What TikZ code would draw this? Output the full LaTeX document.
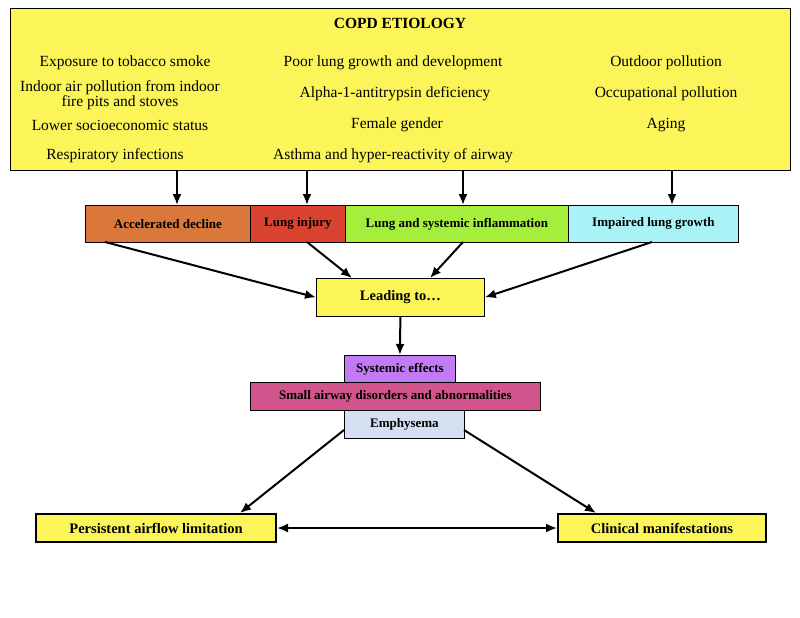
\documentclass[tikz,border=0pt]{standalone}
\usepackage{fontspec}
\setmainfont{Liberation Serif}
\usetikzlibrary{arrows.meta}
\definecolor{ylw}{HTML}{FBF55A}
\definecolor{org}{HTML}{D9783A}
\definecolor{rd}{HTML}{D9432F}
\definecolor{grn}{HTML}{A6EE3C}
\definecolor{cyn}{HTML}{A9F3F6}
\definecolor{vio}{HTML}{C27BF4}
\definecolor{mag}{HTML}{D2548C}
\definecolor{lbl}{HTML}{D5DFF2}
\begin{document}
\begin{tikzpicture}[x=1pt,y=-1pt,
  box/.style={draw=black,line width=0.8pt,font=\bfseries\fontsize{13}{15}\selectfont,inner sep=0pt},
  bigbox/.style={draw=black,line width=2pt,fill=ylw,font=\bfseries\fontsize{14.5}{16}\selectfont,inner sep=0pt},
  tx/.style={font=\fontsize{15.5}{16}\selectfont,align=center},
  arr/.style={-{Latex[length=11pt,width=9pt]},line width=2pt}]
\useasboundingbox (0,0) rectangle (800,618);
\node[draw=black,line width=0.8pt,fill=ylw,minimum width=780,minimum height=162,anchor=north west] (top) at (10,8) {};
\node[font=\bfseries\fontsize{15.5}{17}\selectfont] (title) at (400,23) {COPD ETIOLOGY};
\node[tx] (a1) at (125,63) {Exposure to tobacco smoke};
\node[tx] (a2) at (120,95) {Indoor air pollution from indoor\\[-1pt]fire pits and stoves};
\node[tx] (a3) at (120,125) {Lower socioeconomic status};
\node[tx] (a4) at (115,156) {Respiratory infections};
\node[tx] (b1) at (393,63) {Poor lung growth and development};
\node[tx] (b2) at (395,94) {Alpha-1-antitrypsin deficiency};
\node[tx] (b3) at (397,125) {Female gender};
\node[tx] (b4) at (393,156) {Asthma and hyper-reactivity of airway};
\node[tx] (c1) at (666,63) {Outdoor pollution};
\node[tx] (c2) at (666,94) {Occupational pollution};
\node[tx] (c3) at (666,125) {Aging};
\node[box,fill=org,minimum width=165,minimum height=37,anchor=north west] (acc) at (85,205) {Accelerated decline};
\node[box,fill=rd,minimum width=95,minimum height=37,anchor=north west] (inj) at (250,205) {Lung injury};
\node[box,fill=grn,minimum width=223,minimum height=37,anchor=north west] (inf) at (345,205) {Lung and systemic inflammation};
\node[box,fill=cyn,minimum width=170,minimum height=37,anchor=north west] (imp) at (568,205) {Impaired lung growth};
\node[box,fill=ylw,font=\bfseries\fontsize{14.5}{16}\selectfont,minimum width=168,minimum height=38,anchor=north west] (lead) at (316,278) {Leading to\dots};
\node[box,fill=vio,minimum width=111,minimum height=27,anchor=north west] (sys) at (344,355) {Systemic effects};
\node[box,fill=mag,minimum width=290,minimum height=28,anchor=north west] (sma) at (250,382) {Small airway disorders and abnormalities};
\node[box,fill=lbl,minimum width=120,minimum height=28,anchor=north west] (emp) at (344,410) {Emphysema};
\node[bigbox,minimum width=240,minimum height=28,anchor=north west] (per) at (35,513) {Persistent airflow limitation};
\node[bigbox,minimum width=208,minimum height=28,anchor=north west] (cli) at (557,513) {Clinical manifestations};
\draw[arr] (177,170) -- (acc.north -| 177,0);
\draw[arr] (307,170) -- (inj.north -| 307,0);
\draw[arr] (463,170) -- (inf.north -| 463,0);
\draw[arr] (672,170) -- (imp.north -| 672,0);
\draw[arr] (105,242) -- (lead.west);
\draw[arr] (307,242) -- (352,278);
\draw[arr] (463,242) -- (430,278);
\draw[arr] (652,242) -- (lead.east);
\draw[arr] (lead.south) -- (sys.north);
\draw[arr] (344,430) -- (240,513);
\draw[arr] (464,430) -- (596,513);
\draw[{Latex[length=11pt,width=9pt]}-{Latex[length=11pt,width=9pt]},line width=2pt] (per.east) -- (cli.west);
\end{tikzpicture}
\end{document}
